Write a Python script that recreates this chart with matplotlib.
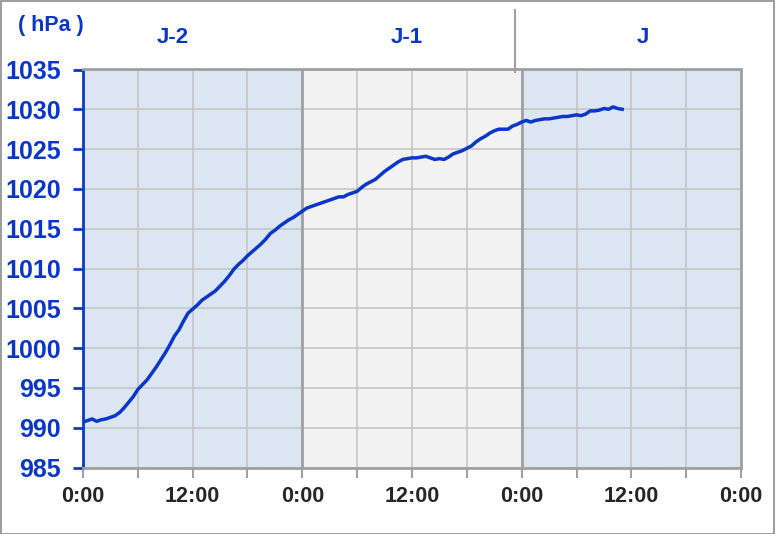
import numpy as np
import matplotlib
matplotlib.use("Agg")
import matplotlib.pyplot as plt
from matplotlib.patches import Rectangle
from matplotlib.lines import Line2D

plt.rcParams["font.family"] = ["Liberation Sans", "DejaVu Sans"]

# pressure read every half hour, starting 0:00 on J-2
step_h = 0.5
pressure = [
    990.7, 990.9, 991.1, 990.8, 991.0, 991.1, 991.3, 991.5, 991.9, 992.5, 993.2, 993.9,
    994.8, 995.4, 996.0, 996.8, 997.6, 998.5, 999.4, 1000.4, 1001.5, 1002.3, 1003.4, 1004.4,
    1004.9, 1005.4, 1006.0, 1006.4, 1006.8, 1007.2, 1007.8, 1008.4, 1009.1, 1009.9, 1010.5, 1011.0,
    1011.6, 1012.1, 1012.6, 1013.1, 1013.7, 1014.4, 1014.8, 1015.3, 1015.7, 1016.1, 1016.4, 1016.8,
    1017.2, 1017.6, 1017.8, 1018.0, 1018.2, 1018.4, 1018.6, 1018.8, 1019.0, 1019.0, 1019.3, 1019.5,
    1019.7, 1020.2, 1020.6, 1020.9, 1021.2, 1021.7, 1022.2, 1022.6, 1023.0, 1023.4, 1023.7, 1023.8,
    1023.9, 1023.9, 1024.0, 1024.1, 1023.9, 1023.7, 1023.8, 1023.7, 1024.0, 1024.4, 1024.6, 1024.8,
    1025.1, 1025.4, 1025.9, 1026.3, 1026.6, 1027.0, 1027.3, 1027.5, 1027.5, 1027.5, 1027.9, 1028.1,
    1028.4, 1028.6, 1028.4, 1028.6, 1028.7, 1028.8, 1028.8, 1028.9, 1029.0, 1029.1, 1029.1, 1029.2,
    1029.3, 1029.2, 1029.4, 1029.8, 1029.8, 1029.9, 1030.1, 1030.0, 1030.3, 1030.1, 1030.0,
]
hours = np.arange(len(pressure)) * step_h

days = ["J-2", "J-1", "J"]
day_colors = ["#dce6f2", "#f2f2f2", "#dce6f2"]
x_tick_labels = ["0:00", "", "12:00", "", "0:00", "", "12:00", "", "0:00", "", "12:00", "", "0:00"]
y_ticks = list(range(985, 1036, 5))

blue = "#0a37c8"
grid_c = "#c3c3c3"
frame_c = "#a0a0a0"

fig = plt.figure(figsize=(7.75, 5.34), dpi=100)
ax = fig.add_axes([83 / 775, 1 - 467.5 / 534, (741 - 83) / 775, (467.5 - 69.5) / 534])

for i, c in enumerate(day_colors):
    ax.axvspan(24 * i, 24 * (i + 1), color=c, zorder=0, lw=0)

ax.set_xlim(0, 72)
ax.set_ylim(985, 1035)
ax.set_xticks(np.arange(0, 73, 6))
ax.set_xticklabels(x_tick_labels)
ax.set_yticks(y_ticks)

ax.grid(True, color=grid_c, lw=1.1, zorder=1)
ax.set_axisbelow(True)
for d in (24, 48):
    ax.axvline(d, color=frame_c, lw=2, zorder=1.5)

ax.plot(hours, pressure, color=blue, lw=2.5, zorder=3)

for s in ("top", "right", "bottom"):
    ax.spines[s].set_color(frame_c)
    ax.spines[s].set_linewidth(2)
ax.spines["left"].set_color(blue)
ax.spines["left"].set_linewidth(2)

ax.tick_params(axis="y", colors=blue, length=7, width=2, pad=9, labelsize=18)
ax.tick_params(axis="x", colors=frame_c, length=7, width=1.5, pad=6,
               labelsize=15.5, labelcolor="#262626")
for lab in ax.get_yticklabels() + ax.get_xticklabels():
    lab.set_fontweight("bold")

# header
fig.text(18 / 775, 1 - 25 / 534, "( hPa )", color=blue, fontsize=15.5,
         fontweight="bold", ha="left", va="center")
for name, xpx in zip(days, [173, 407, 643]):
    fig.text(xpx / 775, 1 - 37 / 534, name, color=blue, fontsize=16,
             fontweight="bold", ha="center", va="center")
fig.add_artist(Line2D([515 / 775, 515 / 775], [1 - 10 / 534, 1 - 72 / 534],
                      color=frame_c, lw=1.5, transform=fig.transFigure))

# figure border
fig.add_artist(Rectangle((0.5 / 775, 0.5 / 534), 1 - 1.5 / 775, 1 - 1.5 / 534,
                         fill=False, edgecolor="#8c8c8c", lw=1.2,
                         transform=fig.transFigure))

fig.savefig("out.png", dpi=100)
